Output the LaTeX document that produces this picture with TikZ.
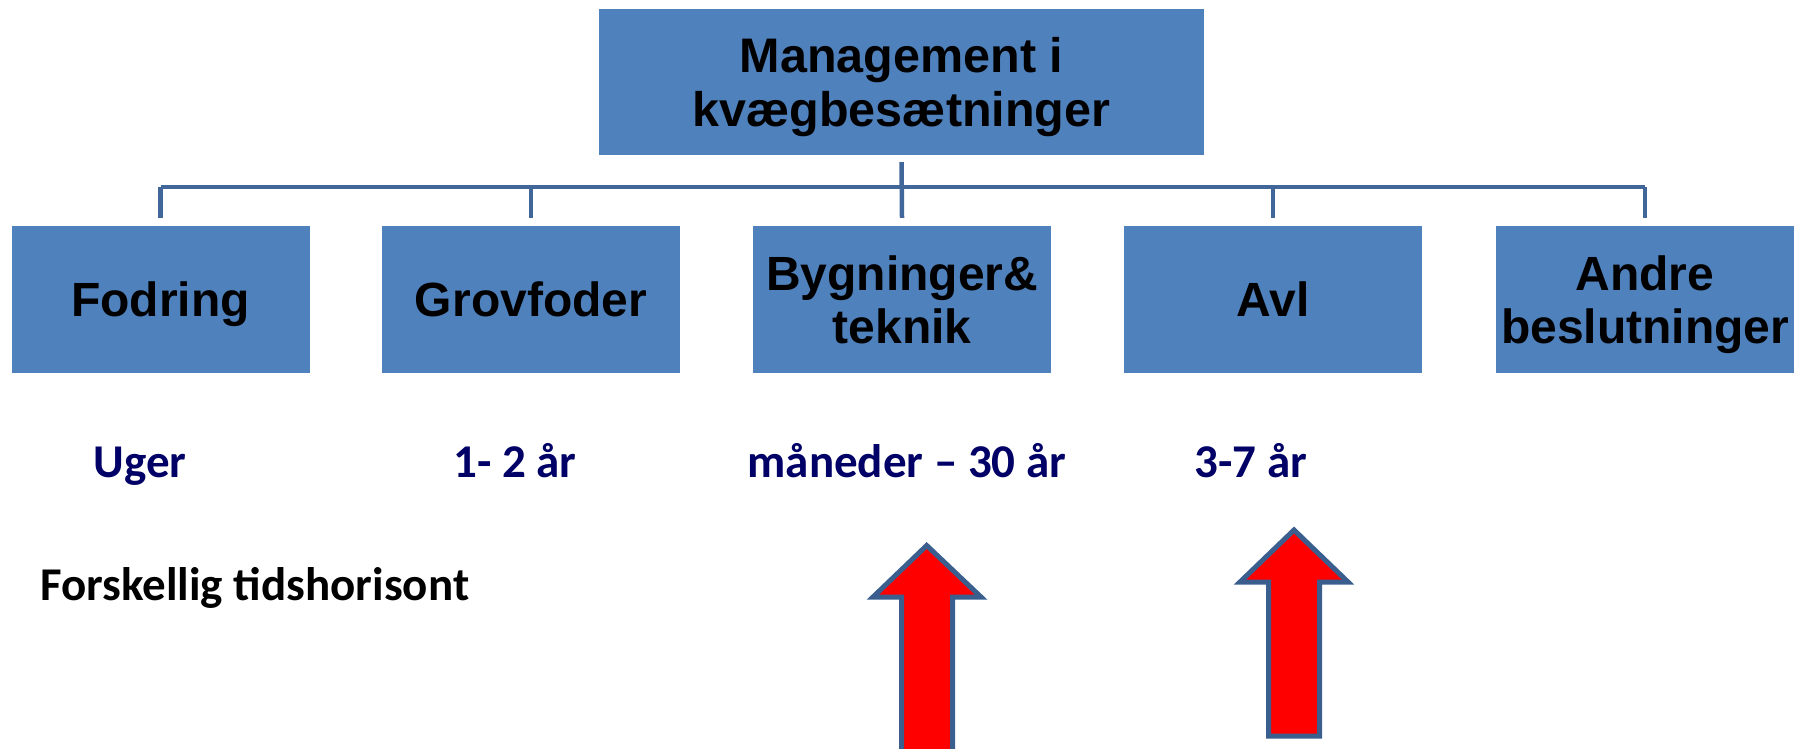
\documentclass[tikz,border=0pt]{standalone}
\usepackage{fontspec}
\setmainfont{Liberation Sans}
\newfontfamily\calfont{Carlito}
\definecolor{boxblue}{HTML}{4F81BD}
\definecolor{linecol}{HTML}{41679A}
\definecolor{arrowline}{HTML}{3A5F8F}
\definecolor{navytext}{HTML}{000066}
\tikzset{
  topbox/.style={rectangle, fill=boxblue, minimum width=605pt, minimum height=146pt, inner sep=0pt, align=center, text depth=0pt, font=\fontsize{48.5}{54}\selectfont\bfseries, text=black},
  childbox/.style={rectangle, fill=boxblue, minimum width=298pt, minimum height=147pt, inner sep=0pt, align=center, text depth=0pt, font=\fontsize{48}{53}\selectfont\bfseries, text=black},
  conn/.style={draw=linecol, line width=4.5pt},
  timelbl/.style={anchor=base, inner sep=0pt, font=\calfont\fontsize{47}{50}\selectfont\bfseries, text=navytext},
  bigarrow/.style={fill=red, draw=arrowline, line width=5pt, miter limit=10}
}
\begin{document}
\begin{tikzpicture}[x=1pt,y=-1pt]
\useasboundingbox (0,0) rectangle (1798,749);
\clip (0,0) rectangle (1798,749);
\node[topbox] (top) at (901.5,82) {Management i\\kvægbesætninger};
\node[childbox] (c1) at (160.5,299.5) {Fodring};
\node[childbox] (c2) at (531,299.5) {Grovfoder};
\node[childbox] (c3) at (902,299.5) {Bygninger\&\\teknik};
\node[childbox] (c4) at (1273,299.5) {Avl};
\node[childbox] (c5) at (1645,299.5) {Andre\\beslutninger};
\coordinate (bus) at (902,187);
\draw[conn] ([yshift=-7pt]top.south) -- ([yshift=8pt]c3.north);
\draw[conn] (c1.north |- bus) -- (c5.north |- bus);
\foreach \c in {c1,c2,c4,c5}{
  \draw[conn] (\c.north |- bus) -- ([yshift=8pt]\c.north);
}
\node[timelbl] (t1) at (140,477) {Uger};
\node[timelbl] (t2) at (515,477) {1- 2 år};
\node[timelbl] (t3) at (907,477) {måneder – 30 år};
\node[timelbl] (t4) at (1251,477) {3-7 år};
\node[timelbl, anchor=base west, text=black] (fh) at (40,600) {Forskellig tidshorisont};
\draw[bigarrow] (926.7,545.5) -- (981,597) -- (952.5,597) -- (952.5,770) -- (901.5,770) -- (901.5,597) -- (873,597) -- cycle;
\draw[bigarrow] (1294,530) -- (1348,582) -- (1319.5,582) -- (1319.5,736) -- (1268.5,736) -- (1268.5,582) -- (1240,582) -- cycle;
\end{tikzpicture}
\end{document}
